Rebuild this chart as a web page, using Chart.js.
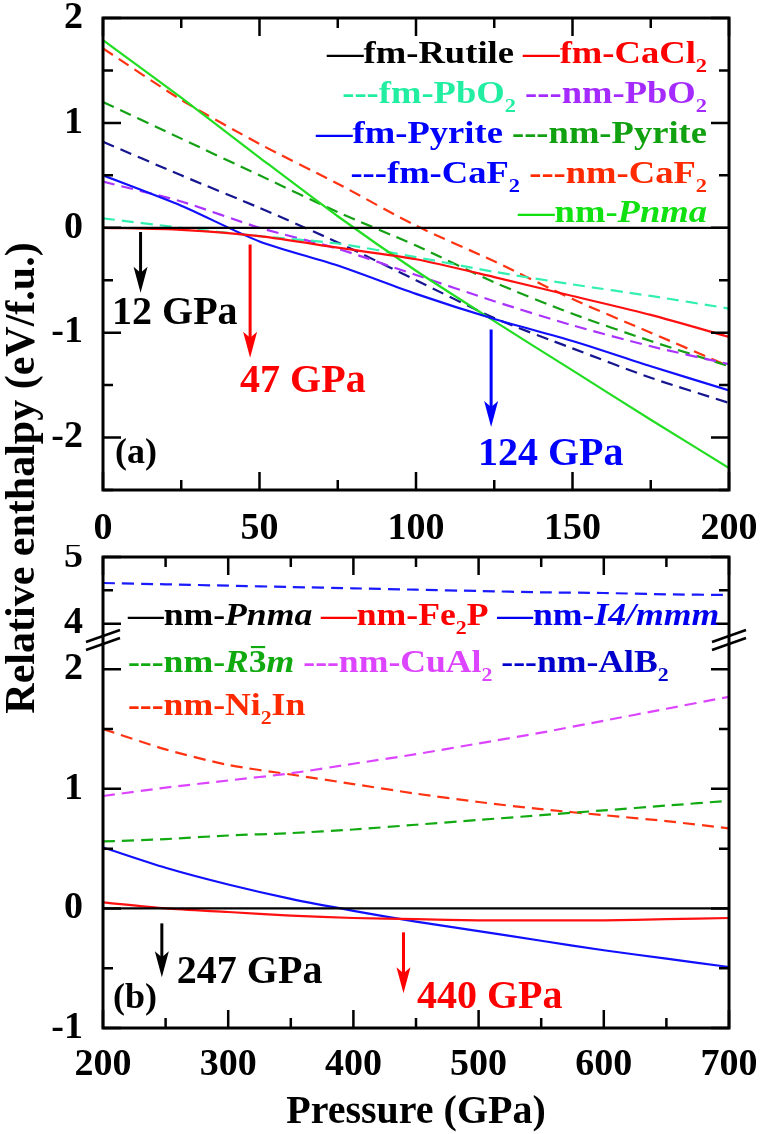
<!DOCTYPE html>
<html>
<head>
<meta charset="utf-8">
<title>Relative enthalpy</title>
<script src="https://cdn.jsdelivr.net/npm/chart.js@4.4.1/dist/chart.umd.min.js"></script>
<style>
  html, body { margin: 0; padding: 0; background: #fff; }
  #page { position: relative; width: 761px; height: 1134px; overflow: hidden; }
  #chartA { position: absolute; left: 0; top: 0; }
  #chartB { position: absolute; left: 0; top: 545px; }
  #yTitle {
    position: absolute; left: -282px; top: 456px; width: 600px; height: 44px;
    line-height: 44px; text-align: center; white-space: nowrap;
    font: bold 42px "Liberation Serif", serif; color: #000;
    transform: rotate(-90deg);
  }
</style>
</head>
<body>
<div id="page">
  <canvas id="chartA" width="761" height="545"></canvas>
  <canvas id="chartB" width="761" height="589"></canvas>
  <div id="yTitle">Relative enthalpy (eV/f.u.)</div>
</div>
<script>
const SERIF = '"Liberation Serif", "Times New Roman", serif';

// panel (a), 0-200 GPa
const pressureA = [0, 25, 50, 75, 100, 125, 150, 175, 200];
const fmRutile  = [0, 0, 0, 0, 0, 0, 0, 0, 0];
const fmCaCl2   = [0.00, -0.02, -0.08, -0.19, -0.30, -0.47, -0.65, -0.83, -1.04];
const fmPbO2    = [0.09, 0.00, -0.08, -0.15, -0.28, -0.42, -0.54, -0.65, -0.77];
const nmPbO2    = [0.44, 0.25, 0.00, -0.20, -0.45, -0.70, -0.93, -1.13, -1.30];
const fmPyrite  = [0.50, 0.21, -0.13, -0.36, -0.63, -0.87, -1.08, -1.32, -1.55];
const nmPyrite  = [1.20, 0.85, 0.50, 0.15, -0.17, -0.52, -0.82, -1.08, -1.32];
const fmCaF2    = [0.82, 0.50, 0.19, -0.14, -0.50, -0.86, -1.15, -1.43, -1.67];
const nmCaF2    = [1.71, 1.22, 0.80, 0.42, 0.02, -0.32, -0.68, -1.00, -1.32];
const nmPnmaA   = [1.79, 1.24, 0.67, 0.11, -0.41, -0.89, -1.36, -1.83, -2.29];

// panel (b), 200-700 GPa
const pressureB = [200, 250, 300, 350, 400, 450, 500, 550, 600, 650, 700];
const nmPnmaB   = [0, 0, 0, 0, 0, 0, 0, 0, 0, 0, 0];
const nmFe2P    = [0.05, 0.00, -0.03, -0.06, -0.08, -0.09, -0.10, -0.10, -0.10, -0.09, -0.08];
const nmI4mmm   = [0.51, 0.34, 0.20, 0.08, -0.02, -0.11, -0.19, -0.27, -0.35, -0.42, -0.49];
const nmR3m     = [0.56, 0.58, 0.61, 0.63, 0.66, 0.70, 0.74, 0.78, 0.82, 0.86, 0.90];
const nmCuAl2   = [0.94, 1.01, 1.07, 1.13, 1.21, 1.29, 1.38, 1.47, 1.57, 1.67, 1.77];
const nmAlB2    = [4.61, 4.59, 4.57, 4.55, 4.53, 4.51, 4.49, 4.47, 4.46, 4.44, 4.43];
const nmNi2In   = [1.50, 1.33, 1.20, 1.12, 1.04, 0.96, 0.89, 0.83, 0.78, 0.73, 0.67];

// transition pressures marked with arrows
const transA = [12, 47, 124];
const transB = [247, 440];

// legend text (*italic*, _2 subscript, ~3 overlined)
const legendA = [
  [['—fm-Rutile', '#000000'], ['—fm-CaCl_2', '#ff0000']],
  [['---fm-PbO_2', '#22eea2'], ['---nm-PbO_2', '#a52aff']],
  [['—fm-Pyrite', '#0000ff'], ['---nm-Pyrite', '#10a010']],
  [['---fm-CaF_2', '#0000ff'], ['---nm-CaF_2', '#ff2a00']],
  [['—nm-*Pnma*', '#11e011']]
];
const legendB = [
  [['—nm-*Pnma*', '#000000'], ['—nm-Fe_2P', '#ff0000'], ['—nm-*I4/mmm*', '#0000ee']],
  [['---nm-*R*~3*m*', '#10aa10'], ['---nm-CuAl_2', '#dd44ff'], ['---nm-AlB_2', '#0000cc']],
  [['---nm-Ni_2In', '#ff2a00']]
];

const TOP_B = 545;

function toPoints(xs, ys) {
  return xs.map((x, i) => ({ x: x, y: ys[i] }));
}

function makeSet(label, xs, ys, color, dashed, yAxisID) {
  return {
    label: label,
    data: toPoints(xs, ys),
    borderColor: color,
    backgroundColor: color,
    borderWidth: 2.2,
    borderDash: dashed ? [12, 7] : [],
    pointRadius: 0,
    tension: 0.25,
    fill: false,
    yAxisID: yAxisID || 'y'
  };
}

// ---- rich text helpers ----
function parseRich(str) {
  const parts = [];
  const re = /\*([^*]+)\*|_(\d)|~(\d)|([^*_~]+)/g;
  let m;
  while ((m = re.exec(str)) !== null) {
    if (m[1]) parts.push({ t: m[1], it: true });
    else if (m[2]) parts.push({ t: m[2], sub: true });
    else if (m[3]) parts.push({ t: m[3], bar: true });
    else parts.push({ t: m[4] });
  }
  return parts;
}

function partFont(p, size) {
  const fs = p.sub ? Math.round(size * 0.62) : size;
  return (p.it ? 'italic ' : '') + 'bold ' + fs + 'px ' + SERIF;
}

function richWidth(ctx, parts, size) {
  let w = 0;
  parts.forEach(p => { ctx.font = partFont(p, size); w += ctx.measureText(p.t).width; });
  return w;
}

function drawRich(ctx, parts, x, y, size, color) {
  let cx = x;
  ctx.fillStyle = color;
  ctx.textAlign = 'left';
  ctx.textBaseline = 'alphabetic';
  parts.forEach(p => {
    ctx.font = partFont(p, size);
    const w = ctx.measureText(p.t).width;
    ctx.fillText(p.t, cx, p.sub ? y + size * 0.3 : y);
    if (p.bar) ctx.fillRect(cx + w * 0.12, y - size * 0.84, w * 0.8, Math.max(2, size * 0.07));
    cx += w;
  });
  return cx - x;
}

function drawLegendRow(ctx, row, x, y, align, size, sx) {
  const items = row.map(e => ({ parts: parseRich(e[0]), color: e[1] }));
  ctx.font = 'bold ' + size + 'px ' + SERIF;
  const gap = ctx.measureText(' ').width;
  let total = 0;
  items.forEach((it, i) => { total += richWidth(ctx, it.parts, size) + (i ? gap : 0); });
  ctx.save();
  ctx.translate(align === 'right' ? x - total * sx : x, y);
  ctx.scale(sx, 1);
  let cx = 0;
  items.forEach(it => { cx += drawRich(ctx, it.parts, cx, 0, size, it.color) + gap; });
  ctx.restore();
}

// ---- frame, inward ticks, arrows ----
function drawFrame(chart, xMajor, yIds) {
  const ctx = chart.ctx, a = chart.chartArea, xs = chart.scales.x;
  ctx.save();
  ctx.strokeStyle = '#000';
  ctx.lineWidth = 2.5;
  ctx.beginPath();
  xs.ticks.forEach(t => {
    const px = xs.getPixelForValue(t.value);
    const len = t.value % xMajor === 0 ? 18 : 10;
    ctx.moveTo(px, a.bottom); ctx.lineTo(px, a.bottom - len);
    ctx.moveTo(px, a.top); ctx.lineTo(px, a.top + len);
  });
  yIds.forEach(id => {
    const ys = chart.scales[id];
    ys.ticks.forEach(t => {
      const v = t.value;
      const py = ys.getPixelForValue(v);
      const len = Math.abs(v - Math.round(v)) < 1e-6 ? 18 : 10;
      ctx.moveTo(a.left, py); ctx.lineTo(a.left + len, py);
      ctx.moveTo(a.right, py); ctx.lineTo(a.right - len, py);
    });
  });
  ctx.stroke();
  ctx.lineWidth = 3;
  ctx.strokeRect(a.left, a.top, a.right - a.left, a.bottom - a.top);
  ctx.restore();
}

function drawArrow(chart, yId, p, from, to, color) {
  const ctx = chart.ctx;
  const x = chart.scales.x.getPixelForValue(p);
  const y0 = chart.scales[yId].getPixelForValue(from);
  const y1 = chart.scales[yId].getPixelForValue(to);
  ctx.save();
  ctx.strokeStyle = color;
  ctx.fillStyle = color;
  ctx.lineWidth = 3;
  ctx.beginPath(); ctx.moveTo(x, y0); ctx.lineTo(x, y1 - 18); ctx.stroke();
  ctx.beginPath();
  ctx.moveTo(x - 7, y1 - 26); ctx.lineTo(x, y1 - 20); ctx.lineTo(x + 7, y1 - 26);
  ctx.lineTo(x, y1); ctx.closePath(); ctx.fill();
  ctx.restore();
}

function drawNote(chart, yId, text, p, e, color, size) {
  const x = chart.scales.x.getPixelForValue(p);
  const y = chart.scales[yId].getPixelForValue(e);
  drawRich(chart.ctx, parseRich(text), x, y, size, color);
}

function drawBreak(chart) {
  const ctx = chart.ctx, a = chart.chartArea;
  const yb = chart.scales.yLow.top + 3;
  ctx.save();
  ctx.strokeStyle = '#000';
  ctx.lineWidth = 2.5;
  [a.left, a.right].forEach(x => {
    [-4, 4].forEach(d => {
      ctx.beginPath();
      ctx.moveTo(x - 17, yb + 6 + d);
      ctx.lineTo(x + 17, yb - 6 + d);
      ctx.stroke();
    });
  });
  ctx.restore();
}

// ---- scales ----
function tickFont() { return { family: SERIF, weight: 'bold', size: 38 }; }

// ticks on every multiple of 0.5 inside the range, labels on whole numbers
function halfSteps(s) {
  const t = [];
  for (let v = Math.ceil(s.min * 2) / 2; v <= s.max + 1e-9; v += 0.5) t.push({ value: v });
  s.ticks = t;
}

function yScale(min, max, extra) {
  return Object.assign({
    type: 'linear', position: 'left', min: min, max: max,
    grid: { display: false, drawTicks: false },
    border: { display: false },
    ticks: {
      autoSkip: false, padding: 20, color: '#000', font: tickFont(),
      callback: v => Math.abs(v - Math.round(v)) < 1e-6 ? String(Math.round(v) + 0) : ''
    },
    afterBuildTicks: halfSteps,
    afterFit: s => { s.width = 103; s.paddingTop = 0; s.paddingBottom = 0; }
  }, extra || {});
}

function xScale(min, max, step, major, height, pad, title) {
  return {
    type: 'linear', position: 'bottom', min: min, max: max,
    grid: { display: false, drawTicks: false },
    border: { display: false },
    ticks: {
      stepSize: step, autoSkip: false, maxRotation: 0, padding: pad, color: '#000', font: tickFont(),
      callback: v => v % major === 0 ? String(v) : ''
    },
    title: title || { display: false },
    afterFit: s => { s.height = height; s.paddingLeft = 0; s.paddingRight = 0; }
  };
}

// ---- panel (a) ----
const decorA = {
  id: 'decorA',
  afterDraw(chart) {
    const ctx = chart.ctx;
    drawFrame(chart, 50, ['y']);
    const rowY = [63, 103, 143, 183, 222];
    legendA.forEach((row, i) => drawLegendRow(ctx, row, 707, rowY[i], 'right', 31, 1.18));
    drawArrow(chart, 'y', transA[0], -0.04, -0.62, '#000000');
    drawArrow(chart, 'y', transA[1], -0.16, -1.24, '#ff0000');
    drawArrow(chart, 'y', transA[2], -0.97, -1.90, '#0000ff');
    drawNote(chart, 'y', transA[0] + ' GPa', 2.9, -0.92, '#000000', 40);
    drawNote(chart, 'y', transA[1] + ' GPa', 43.8, -1.57, '#ff0000', 40);
    drawNote(chart, 'y', transA[2] + ' GPa', 119.8, -2.26, '#0000ff', 40);
    drawNote(chart, 'y', '(a)', 3.8, -2.24, '#000000', 36);
  }
};

new Chart(document.getElementById('chartA'), {
  type: 'line',
  data: {
    datasets: [
      makeSet('fm-Rutile', pressureA, fmRutile, '#000000', false),
      makeSet('fm-CaCl2', pressureA, fmCaCl2, '#ff1010', false),
      makeSet('fm-Pyrite', pressureA, fmPyrite, '#1010ff', false),
      makeSet('nm-Pnma', pressureA, nmPnmaA, '#22dd22', false),
      makeSet('fm-PbO2', pressureA, fmPbO2, '#33f0b0', true),
      makeSet('nm-PbO2', pressureA, nmPbO2, '#aa33ff', true),
      makeSet('nm-Pyrite', pressureA, nmPyrite, '#14a014', true),
      makeSet('fm-CaF2', pressureA, fmCaF2, '#151590', true),
      makeSet('nm-CaF2', pressureA, nmCaF2, '#ff3311', true)
    ]
  },
  options: {
    responsive: false,
    animation: false,
    devicePixelRatio: 1,
    layout: { padding: { left: 0, top: 18, right: 32, bottom: 0 } },
    plugins: { legend: { display: false }, tooltip: { enabled: false } },
    scales: {
      x: xScale(0, 200, 25, 50, 55, 16),
      y: yScale(-2.5, 2)
    }
  },
  plugins: [decorA]
});

// ---- panel (b) ----
const decorB = {
  id: 'decorB',
  afterDraw(chart) {
    const ctx = chart.ctx;
    drawFrame(chart, 100, ['yHigh', 'yLow']);
    drawBreak(chart);
    const rowY = [625 - TOP_B, 672 - TOP_B, 715 - TOP_B];
    legendB.forEach((row, i) => drawLegendRow(ctx, row, 128, rowY[i], 'left', 31, 1.15));
    drawArrow(chart, 'yLow', transB[0], -0.125, -0.575, '#000000');
    drawArrow(chart, 'yLow', transB[1], -0.20, -0.71, '#ff0000');
    drawNote(chart, 'yLow', transB[0] + ' GPa', 259, -0.62, '#000000', 40);
    drawNote(chart, 'yLow', transB[1] + ' GPa', 450.8, -0.83, '#ff0000', 40);
    drawNote(chart, 'yLow', '(b)', 208, -0.83, '#000000', 36);
  }
};

new Chart(document.getElementById('chartB'), {
  type: 'line',
  data: {
    datasets: [
      makeSet('nm-Pnma', pressureB, nmPnmaB, '#000000', false, 'yLow'),
      makeSet('nm-Fe2P', pressureB, nmFe2P, '#ff1010', false, 'yLow'),
      makeSet('nm-I4/mmm', pressureB, nmI4mmm, '#1010ff', false, 'yLow'),
      makeSet('nm-R-3m', pressureB, nmR3m, '#11aa11', true, 'yLow'),
      makeSet('nm-CuAl2', pressureB, nmCuAl2, '#dd44ff', true, 'yLow'),
      makeSet('nm-Ni2In', pressureB, nmNi2In, '#ff3311', true, 'yLow'),
      makeSet('nm-AlB2', pressureB, nmAlB2, '#1a1aff', true, 'yHigh')
    ]
  },
  options: {
    responsive: false,
    animation: false,
    devicePixelRatio: 1,
    layout: { padding: { left: 0, top: 12, right: 32, bottom: 0 } },
    plugins: { legend: { display: false }, tooltip: { enabled: false } },
    scales: {
      x: xScale(200, 700, 50, 100, 106, 14, {
        display: true, text: 'Pressure (GPa)', color: '#000',
        font: { family: SERIF, weight: 'bold', size: 40, lineHeight: 1 },
        padding: { top: 0, bottom: 1 }
      }),
      // left boxes are stacked in reverse order, so the lower segment comes first
      yLow: yScale(-1, 2.27, { stack: 'b', stackWeight: 391 }),
      yHigh: yScale(3.8, 5, { stack: 'b', stackWeight: 80 })
    }
  },
  plugins: [decorB]
});
</script>
</body>
</html>
